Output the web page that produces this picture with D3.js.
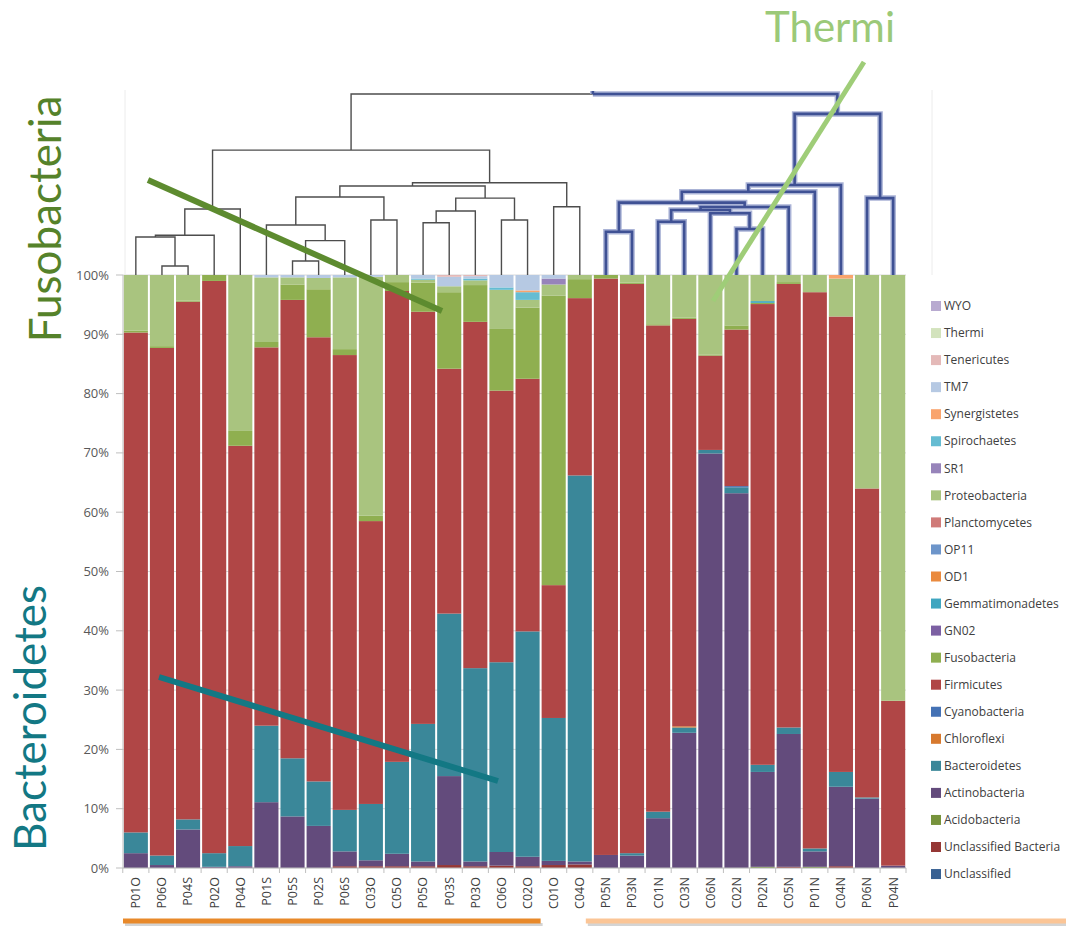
<!DOCTYPE html>
<html>
<head>
<meta charset="utf-8">
<script src="https://cdn.jsdelivr.net/npm/d3@7"></script>
<style>
  html, body { margin: 0; padding: 0; background: #ffffff; }
  svg { display: block; }
</style>
</head>
<body>
<svg id="chart" width="1066" height="927"></svg>
<script>
// ---------------- DATA ----------------
const samples = ["P01O","P06O","P04S","P02O","P04O","P01S","P05S","P02S","P06S","C03O","C05O","P05O","P03S","P03O","C06O","C02O","C01O","C04O","P05N","P03N","C01N","C03N","C06N","C02N","P02N","C05N","P01N","C04N","P06N","P04N"];

// stacking order, bottom to top
const seriesNames = ["Unclassified","Unclassified Bacteria","Acidobacteria","Actinobacteria","Bacteroidetes","Chloroflexi","Cyanobacteria","Firmicutes","Fusobacteria","GN02","Gemmatimonadetes","OD1","OP11","Planctomycetes","Proteobacteria","SR1","Spirochaetes","Synergistetes","TM7","Tenericutes","Thermi","WYO"];
const seriesColors = ["#376092","#953735","#77933c","#634b7c","#3a8799","#d7792e","#4472b5","#b04646","#8faf50","#7c60a3","#3fa6c0","#ea8a3e","#6d95ca","#d07b79","#a9c47f","#9784ba","#65bcd2","#f9a46d","#b6c9e3","#e4b9b8","#d3e3bd","#b8aad0"];

const unclassified         = [0,0,0,0,0, 0,0,0,0,0, 0,0,0,0,0, 0,0,0,0,0, 0,0,0,0,0, 0,0,0,0,0];
const unclassifiedBacteria = [0,0,0,0,0, 0,0,0,0.3,0.3, 0.3,0.3,0.5,0.3,0.4, 0.3,0.5,0.6,0,0, 0,0,0,0,0, 0.2,0,0.3,0,0];
const acidobacteria        = [0,0,0,0,0, 0,0,0,0,0, 0,0,0,0,0, 0,0,0,0,0, 0,0,0,0,0.2, 0,0.2,0,0,0];
const actinobacteria       = [2.5,0.5,6.5,0.2,0.3, 11.1,8.7,7.1,2.5,1.0, 2.1,0.8,15.0,0.8,2.3, 1.6,0.7,0.5,2.2,2.1, 8.4,22.8,69.9,63.2,16.0, 22.4,2.6,13.4,11.7,0.4];
const bacteroidetes        = [3.5,1.6,1.7,2.3,3.4, 12.9,9.8,7.5,7.0,9.5, 15.5,23.2,27.4,32.6,32.0, 38.0,24.1,65.1,0,0.4, 1.1,0.9,0.6,1.0,1.2, 1.1,0.5,2.5,0.2,0];
const chloroflexi          = [0,0,0,0,0, 0,0,0,0,0, 0,0,0,0,0, 0,0,0,0,0, 0,0.2,0,0,0, 0,0,0,0,0];
const cyanobacteria        = [0,0,0,0,0, 0,0,0,0,0, 0,0,0,0,0, 0,0,0,0,0, 0,0,0,0.2,0, 0,0,0,0,0];
const firmicutes           = [84.3,85.6,87.3,96.5,67.5, 63.8,77.3,74.9,76.7,47.7, 79.4,69.5,41.3,58.4,45.8, 42.6,22.4,29.9,97.2,96.0, 82.0,68.7,15.9,26.4,77.7, 74.8,93.8,76.8,52.1,27.8];
const fusobacteria         = [0.3,0.3,0.2,1.0,2.5, 0.9,2.6,8.1,1.0,0.9, 1.5,4.9,12.9,6.2,10.4, 12.0,48.8,3.2,0.6,0.2, 0.2,0.2,0.2,0.7,0.2, 0.3,0,0,0,0];
const gn02                 = [0,0,0,0,0, 0,0,0,0,0, 0,0,0,0,0, 0,0,0,0,0, 0,0,0,0,0, 0,0,0,0,0];
const gemmatimonadetes     = [0,0,0,0,0, 0,0,0,0,0, 0,0,0,0,0, 0,0,0,0,0, 0,0,0,0,0.3, 0,0,0,0,0];
const od1                  = [0,0,0,0,0, 0,0,0,0,0, 0,0,0,0,0, 0,0,0,0,0, 0,0,0,0,0, 0,0,0,0,0];
const op11                 = [0,0,0,0,0, 0,0,0,0,0, 0,0,0,0,0, 0,0,0,0,0, 0,0,0,0,0, 0,0,0,0,0];
const planctomycetes       = [0,0,0,0,0, 0,0,0,0,0, 0,0,0,0,0, 0,0,0,0,0, 0,0,0,0,0, 0,0,0,0,0];
const proteobacteria       = [9.4,12.0,4.3,0,26.3, 10.9,1.2,1.9,12.1,40.3, 1.2,0.5,1.0,0.8,6.6, 1.3,1.9,0.7,0,1.3, 8.3,7.2,13.4,8.5,4.4, 1.2,2.9,6.4,36.0,71.8];
const sr1                  = [0,0,0,0,0, 0,0,0,0,0, 0,0,0,0,0, 0,1.0,0,0,0, 0,0,0,0,0, 0,0,0,0,0];
const spirochaetes         = [0,0,0,0,0, 0,0,0,0,0, 0,0.2,0,0.3,0.4, 1.3,0,0,0,0, 0,0,0,0,0, 0,0,0,0,0];
const synergistetes        = [0,0,0,0,0, 0,0,0,0,0, 0,0,0,0,0, 0.3,0,0,0,0, 0,0,0,0,0, 0,0,0.6,0,0];
const tm7                  = [0,0,0,0,0, 0.4,0.4,0.5,0.4,0.3, 0,0.6,1.6,0.4,2.1, 2.6,0.6,0,0,0, 0,0,0,0,0, 0,0,0,0,0];
const tenericutes          = [0,0,0,0,0, 0,0,0,0,0, 0,0,0.3,0.2,0, 0,0,0,0,0, 0,0,0,0,0, 0,0,0,0,0];
const thermi               = [0,0,0,0,0, 0,0,0,0,0, 0,0,0,0,0, 0,0,0,0,0, 0,0,0,0,0, 0,0,0,0,0];
const wyo                  = [0,0,0,0,0, 0,0,0,0,0, 0,0,0,0,0, 0,0,0,0,0, 0,0,0,0,0, 0,0,0,0,0];

const seriesValues = [unclassified, unclassifiedBacteria, acidobacteria, actinobacteria, bacteroidetes, chloroflexi, cyanobacteria, firmicutes, fusobacteria, gn02, gemmatimonadetes, od1, op11, planctomycetes, proteobacteria, sr1, spirochaetes, synergistetes, tm7, tenericutes, thermi, wyo];

const yTicks = [0,10,20,30,40,50,60,70,80,90,100];

// dendrogram merges: [id, left, right, height]; numbers = leaf index, strings = earlier merges
const dendroMerges = [
  ["A",1,2,0.05],["B",0,"A",0.21],["C","B",3,0.22],["D","C",4,0.365],
  ["p",6,7,0.077],["q","p",8,0.19],["r",5,"q",0.276],["s",9,10,0.304],["t","r","s",0.431],
  ["u",11,12,0.289],["v","u",13,0.354],["w",14,15,0.304],["x","v","w",0.425],
  ["F","t","x",0.492],["y",16,17,0.377],["G","F","y",0.51],["E","D","G",0.69],
  ["a",18,19,0.239],["b",20,21,0.294],["c",23,24,0.254],["d",22,"c",0.341],["e","b","d",0.359],
  ["f","e",25,0.376],["g","a","f",0.40],["h","g",26,0.46],["i","h",27,0.497],["j",28,29,0.425],
  ["k","i","j",0.89],["root","E","k",1.0]
];
const blueNodes = ["a","b","c","d","e","f","g","h","i","j","k"];

// ---------------- DRAW ----------------
(function () {
const svg = d3.select("#chart");
const pLeft = 123, pRight = 906, pTop = 275, pBottom = 868;

const x = d3.scaleBand().domain(samples).range([pLeft, pRight]).paddingInner(0.077).paddingOuter(0.03);
const y = d3.scaleLinear().domain([0, 100]).range([pBottom, pTop]);
const hScale = d3.scaleLinear().domain([0, 1]).range([pTop, 94]);
const font = "Lato, 'Open Sans', 'Liberation Sans', sans-serif";
const smallFont = "'Open Sans', Lato, sans-serif";

// gridlines
svg.append("g").selectAll("line").data(yTicks).join("line")
  .attr("x1", pLeft).attr("x2", pRight)
  .attr("y1", d => y(d)).attr("y2", d => y(d))
  .attr("stroke", "#d9d9d9").attr("stroke-width", 1);

// stacked bars
const table = samples.map((s, i) => {
  const o = { sample: s };
  seriesNames.forEach((n, k) => o[n] = seriesValues[k][i]);
  return o;
});
const stack = d3.stack().keys(seriesNames)(table);
const color = d3.scaleOrdinal().domain(seriesNames).range(seriesColors);

svg.append("g").selectAll("g").data(stack).join("g")
  .attr("fill", d => color(d.key))
  .selectAll("rect").data(d => d.filter(v => v[1] - v[0] > 0)).join("rect")
  .attr("x", d => x(d.data.sample))
  .attr("width", x.bandwidth())
  .attr("y", d => y(d[1]))
  .attr("height", d => y(d[0]) - y(d[1]));

// y axis
const yAxis = svg.append("g");
yAxis.append("line").attr("x1", pLeft).attr("x2", pLeft).attr("y1", pTop).attr("y2", pBottom)
  .attr("stroke", "#bfbfbf");
yAxis.selectAll("line.tick").data(yTicks).join("line").attr("class","tick")
  .attr("x1", pLeft - 7).attr("x2", pLeft).attr("y1", d => y(d)).attr("y2", d => y(d))
  .attr("stroke", "#bfbfbf");
yAxis.selectAll("text").data(yTicks).join("text")
  .attr("x", 109).attr("y", d => y(d)).attr("dy", "0.35em")
  .attr("text-anchor", "end").attr("font-family", smallFont).attr("font-size", 13)
  .attr("fill", "#595959").text(d => d + "%");

// x axis
const xAxis = svg.append("g");
xAxis.append("line").attr("x1", pLeft).attr("x2", pRight).attr("y1", pBottom).attr("y2", pBottom)
  .attr("stroke", "#bfbfbf");
const bounds = samples.map(s => x(s) - x.step() * x.paddingInner() / 2).concat([pRight]);
xAxis.selectAll("line.tick").data(bounds).join("line").attr("class","tick")
  .attr("x1", d => d).attr("x2", d => d).attr("y1", pBottom).attr("y2", pBottom + 5)
  .attr("stroke", "#bfbfbf");
xAxis.selectAll("text").data(samples).join("text")
  .attr("transform", d => `translate(${x(d) + x.bandwidth() / 2},${pBottom + 9}) rotate(-90)`)
  .attr("text-anchor", "end").attr("dy", "0.35em")
  .attr("font-family", smallFont).attr("font-size", 12.5).attr("fill", "#404040")
  .text(d => d);

// group underlines
const orangeEnd = x("C01O") - 1;
const peachStart = x("C04O") + x.bandwidth() * 0.75;
svg.append("rect").attr("x", pLeft + 2).attr("y", 923).attr("width", orangeEnd - pLeft).attr("height", 3).attr("fill", "#d4d4d4");
svg.append("rect").attr("x", peachStart + 2).attr("y", 923).attr("width", 1066 - peachStart).attr("height", 3).attr("fill", "#d4d4d4");
svg.append("rect").attr("x", pLeft).attr("y", 918.5).attr("width", orangeEnd - pLeft).attr("height", 5).attr("fill", "#e8892a");
svg.append("rect").attr("x", peachStart).attr("y", 918.5).attr("width", 1066 - peachStart).attr("height", 5).attr("fill", "#fbc596");

// dendrogram frame
svg.append("line").attr("x1", 125).attr("x2", 125).attr("y1", 90).attr("y2", pTop).attr("stroke", "#ececec");
svg.append("line").attr("x1", 932).attr("x2", 932).attr("y1", 90).attr("y2", pTop).attr("stroke", "#ececec");

// dendrogram
const nodes = {};
samples.forEach((s, i) => nodes[i] = { x: x(s) + x.bandwidth() / 2, h: 0 });
const dg = svg.append("g").attr("fill", "none");
const grayLines = dg.append("g");
const blueHalo = dg.append("g");
const blueCore = dg.append("g");
function seg(isBlue, pts) {
  const line = d3.line()(pts);
  if (isBlue) {
    blueHalo.append("path").attr("d", line).attr("stroke", "#aab3d6").attr("stroke-width", 5.5);
    blueCore.append("path").attr("d", line).attr("stroke", "#3f5194").attr("stroke-width", 2.6);
  } else {
    grayLines.append("path").attr("d", line).attr("stroke", "#4d4d4d").attr("stroke-width", 1.4);
  }
}
dendroMerges.forEach(([id, l, r, h]) => {
  const L = nodes[l], R = nodes[r];
  const yh = hScale(h);
  if (id === "root") {
    const split = x("P05N") - 1;
    seg(false, [[L.x, hScale(L.h)], [L.x, yh], [split, yh]]);
    seg(true, [[split, yh], [R.x, yh], [R.x, hScale(R.h)]]);
    seg(true, [[split, yh - 3], [split, yh]]);
  } else {
    const isBlue = blueNodes.includes(id);
    seg(isBlue, [[L.x, hScale(L.h)], [L.x, yh], [R.x, yh], [R.x, hScale(R.h)]]);
  }
  nodes[id] = { x: (L.x + R.x) / 2, h: h };
});

// legend
const legendNames = seriesNames.slice().reverse();
const lg = svg.append("g");
legendNames.forEach((n, i) => {
  const ly = 306 + i * 27.05;
  lg.append("rect").attr("x", 931).attr("y", ly - 5).attr("width", 10).attr("height", 10).attr("fill", color(n));
  lg.append("text").attr("x", 944).attr("y", ly).attr("dy", "0.35em")
    .attr("font-family", smallFont).attr("font-size", 12).attr("fill", "#404040").text(n);
});

// annotations
svg.append("line").attr("x1", 148).attr("y1", 180).attr("x2", 442).attr("y2", 311)
  .attr("stroke", "#5d8b2f").attr("stroke-width", 6);
svg.append("line").attr("x1", 159).attr("y1", 677).attr("x2", 498).attr("y2", 781)
  .attr("stroke", "#137884").attr("stroke-width", 6);
svg.append("line").attr("x1", 713).attr("y1", 301).attr("x2", 864).attr("y2", 62)
  .attr("stroke", "#9fcd78").attr("stroke-width", 5);

svg.append("text").attr("transform", "translate(61,219) rotate(-90)")
  .attr("text-anchor", "middle").attr("font-family", font).attr("font-size", 44)
  .attr("fill", "#55822a").text("Fusobacteria");
svg.append("text").attr("transform", "translate(46,718) rotate(-90)")
  .attr("text-anchor", "middle").attr("font-family", font).attr("font-size", 44)
  .attr("fill", "#137884").text("Bacteroidetes");
svg.append("text").attr("x", 830).attr("y", 42)
  .attr("text-anchor", "middle").attr("font-family", font).attr("font-size", 42)
  .attr("fill", "#9bc978").text("Thermi");
})();
</script>
</body>
</html>
